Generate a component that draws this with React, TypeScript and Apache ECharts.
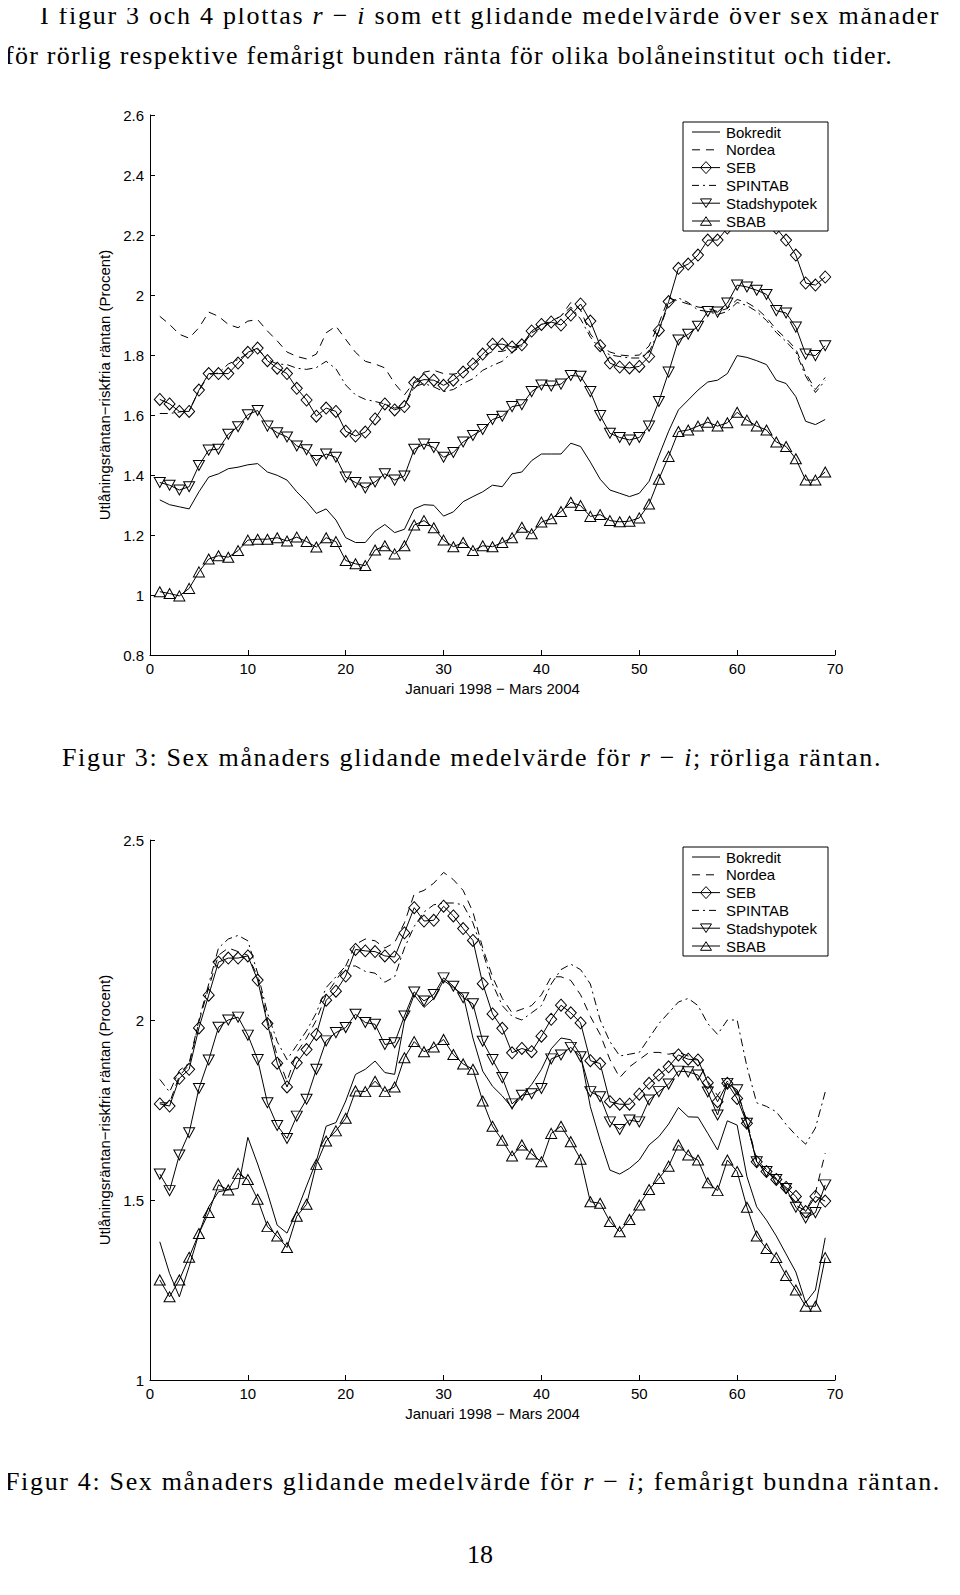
import React, { useEffect, useLayoutEffect, useRef } from "react";
import * as echarts from "echarts";

// ---------- DATA (month index 1..69, six-month moving average of r - i) ----------
const seriesNames = ["Bokredit", "Nordea", "SEB", "SPINTAB", "Stadshypotek", "SBAB"];
const xTicks = [0, 10, 20, 30, 40, 50, 60, 70];

// Figur 3: rörlig ränta
const bok3 = [1.317,1.301,1.294,1.287,1.344,1.393,1.404,1.421,1.426,1.434,1.438,1.41,1.399,1.383,
1.344,1.311,1.272,1.287,1.25,1.191,1.175,1.175,1.213,1.235,1.208,1.219,1.287,
1.301,1.299,1.263,1.277,1.311,1.328,1.344,1.366,1.361,1.404,1.41,1.448,1.47,1.47,
1.47,1.506,1.495,1.443,1.386,1.35,1.339,1.328,1.339,1.379,1.464,1.546,1.617,
1.65,1.683,1.71,1.716,1.738,1.798,1.792,1.781,1.768,1.716,1.705,1.661,1.579,1.568,1.585];
const nor3 = [1.929,1.902,1.869,1.856,1.891,1.943,1.929,1.902,1.891,1.913,1.918,1.88,1.847,1.81,
1.795,1.787,1.803,1.874,1.896,1.852,1.809,1.779,1.77,1.757,1.705,1.667,1.71,
1.743,1.749,1.738,1.736,1.743,1.765,1.795,1.812,1.812,1.823,1.83,1.874,1.891,1.91,
1.93,1.975,1.95,1.87,1.83,1.81,1.8,1.797,1.8,1.83,1.905,1.99,1.98,
1.97,1.96,1.955,1.945,1.955,1.985,1.975,1.955,1.925,1.885,1.855,1.82,1.74,1.685,1.725];
const seb3 = [1.652,1.637,1.612,1.612,1.683,1.738,1.738,1.738,1.773,1.809,1.823,1.781,1.756,1.738,
1.689,1.65,1.596,1.623,1.612,1.546,1.53,1.543,1.587,1.637,1.617,1.628,1.708,
1.718,1.716,1.699,1.716,1.743,1.77,1.803,1.836,1.836,1.827,1.834,1.88,1.902,1.91,
1.9,1.933,1.97,1.913,1.831,1.773,1.76,1.757,1.762,1.795,1.882,1.978,2.089,
2.103,2.133,2.183,2.183,2.223,2.26,2.27,2.26,2.25,2.223,2.183,2.133,2.04,2.033,2.06];
const spin3 = [1.605,1.605,1.61,1.615,1.68,1.735,1.74,1.77,1.785,1.805,1.82,1.785,1.77,1.768,
1.756,1.752,1.758,1.779,1.754,1.7,1.667,1.652,1.645,1.637,1.623,1.628,1.694,
1.705,1.694,1.678,1.685,1.705,1.721,1.749,1.765,1.779,1.809,1.83,1.874,1.902,1.913,
1.93,1.96,1.92,1.86,1.82,1.8,1.795,1.79,1.79,1.81,1.88,1.97,1.99,
1.975,1.95,1.945,1.935,1.945,1.975,1.965,1.945,1.915,1.875,1.845,1.81,1.73,1.675,1.715];
const stad3 = [1.375,1.366,1.35,1.361,1.432,1.483,1.486,1.536,1.561,1.601,1.615,1.563,1.541,1.527,
1.497,1.484,1.448,1.47,1.459,1.393,1.375,1.357,1.377,1.404,1.383,1.397,1.486,
1.503,1.492,1.459,1.475,1.51,1.532,1.552,1.585,1.596,1.628,1.634,1.678,1.7,1.697,
1.703,1.732,1.729,1.678,1.598,1.539,1.525,1.517,1.525,1.563,1.645,1.743,1.85,
1.869,1.896,1.945,1.943,1.973,2.033,2.027,2.016,2.002,1.948,1.94,1.893,1.803,1.798,1.831];
const sbab3 = [1.011,1.005,0.997,1.022,1.077,1.12,1.131,1.126,1.148,1.183,1.186,1.186,1.191,1.18,
1.193,1.178,1.16,1.191,1.178,1.115,1.104,1.098,1.15,1.164,1.137,1.164,1.233,
1.248,1.224,1.183,1.161,1.175,1.148,1.164,1.161,1.175,1.191,1.226,1.204,1.243,1.254,
1.278,1.309,1.298,1.262,1.268,1.248,1.244,1.246,1.257,1.303,1.386,1.462,1.545,
1.55,1.563,1.576,1.563,1.574,1.609,1.583,1.563,1.55,1.51,1.495,1.454,1.383,1.383,1.41];

// Figur 4: femårigt bunden ränta
const bok4 = [1.384,1.296,1.231,1.315,1.407,1.481,1.523,1.528,1.532,1.674,1.6,1.52,1.43,
1.408,1.469,1.539,1.608,1.705,1.715,1.775,1.849,1.863,1.886,1.854,1.849,1.997,2.07,
2.035,2.06,2.11,2.09,2.07,1.95,1.858,1.816,1.789,1.756,1.789,1.821,1.863,1.92,
1.95,1.945,1.903,1.759,1.666,1.583,1.572,1.588,1.611,1.653,1.676,1.711,1.757,
1.731,1.73,1.685,1.639,1.72,1.708,1.565,1.481,1.444,1.4,1.35,1.3,1.215,1.25,1.395];
const nor4 = [1.77,1.77,1.845,1.875,1.995,2.09,2.18,2.2,2.19,2.18,2.12,2.0,1.9,
1.83,1.91,1.95,2.0,2.07,2.11,2.15,2.21,2.225,2.22,2.2,2.215,2.27,2.35,
2.36,2.38,2.41,2.39,2.36,2.3,2.2,2.12,2.06,2.02,2.03,2.04,2.07,2.12,
2.12,2.11,2.07,2.01,1.96,1.89,1.84,1.87,1.89,1.91,1.91,1.905,1.91,
1.9,1.89,1.83,1.79,1.83,1.8,1.72,1.61,1.585,1.56,1.525,1.485,1.47,1.52,1.63];
const seb4 = [1.767,1.761,1.838,1.863,1.978,2.069,2.161,2.172,2.172,2.178,2.111,1.99,1.88,
1.814,1.881,1.918,1.96,2.055,2.08,2.122,2.196,2.192,2.19,2.178,2.175,2.242,2.312,
2.275,2.277,2.316,2.289,2.254,2.221,2.101,2.017,1.977,1.909,1.921,1.912,1.955,2.002,
2.041,2.02,1.992,1.887,1.879,1.773,1.766,1.766,1.794,1.824,1.847,1.87,1.903,
1.891,1.889,1.826,1.773,1.824,1.782,1.713,1.606,1.579,1.557,1.535,1.51,1.468,1.51,1.497];
const spin4 = [1.835,1.8,1.86,1.88,2.0,2.1,2.2,2.225,2.235,2.22,2.13,2.02,1.94,
1.89,1.93,1.97,2.02,2.09,2.12,2.15,2.15,2.135,2.13,2.105,2.12,2.2,2.26,
2.3,2.32,2.325,2.325,2.32,2.27,2.19,2.1,2.04,2.01,2.0,2.02,2.04,2.1,
2.14,2.155,2.14,2.1,2.0,1.94,1.9,1.905,1.91,1.95,1.99,2.02,2.05,
2.06,2.04,1.99,1.96,2.0,2.0,1.87,1.77,1.76,1.745,1.71,1.68,1.655,1.7,1.8];
const stad4 = [1.572,1.526,1.625,1.687,1.81,1.889,1.98,2.0,2.008,1.958,1.89,1.77,1.707,
1.671,1.733,1.78,1.863,1.942,1.965,1.979,2.016,1.993,1.988,1.932,1.937,2.011,2.078,
2.053,2.071,2.117,2.094,2.062,2.045,1.941,1.89,1.84,1.767,1.791,1.795,1.81,1.892,
1.903,1.924,1.898,1.801,1.787,1.717,1.696,1.722,1.717,1.778,1.801,1.822,1.858,
1.856,1.847,1.8,1.736,1.824,1.806,1.713,1.606,1.579,1.557,1.532,1.48,1.45,1.465,1.542];
const sbab4 = [1.278,1.231,1.278,1.341,1.407,1.465,1.542,1.528,1.574,1.557,1.502,1.426,1.4,
1.368,1.455,1.488,1.599,1.664,1.692,1.727,1.803,1.801,1.83,1.801,1.814,1.895,1.94,
1.912,1.925,1.946,1.904,1.878,1.863,1.775,1.705,1.666,1.622,1.653,1.628,1.606,1.685,
1.705,1.662,1.613,1.495,1.491,1.44,1.412,1.446,1.486,1.529,1.56,1.594,1.653,
1.625,1.611,1.548,1.526,1.611,1.579,1.48,1.4,1.365,1.34,1.29,1.25,1.205,1.205,1.34];

const fig3Values = [bok3, nor3, seb3, spin3, stad3, sbab3];
const fig4Values = [bok4, nor4, seb4, spin4, stad4, sbab4];

// ---------- STYLES ----------
const SANS = '"Liberation Sans", Arial, Helvetica, sans-serif';
const SERIF = '"Liberation Serif", "Times New Roman", serif';
const DOWN_TRI = "path://M0,0 L10,0 L5,8.66 Z";

const seriesStyle: any[] = [
  { symbol: "none", lineType: "solid", dash: null, marker: null },
  { symbol: "none", lineType: [8, 6], dash: [8, 6], marker: null },
  { symbol: "diamond", size: [11, 12], lineType: "solid", dash: null, marker: "diamond" },
  { symbol: "none", lineType: [8, 4, 2, 4], dash: [7, 4, 2, 4], marker: null },
  { symbol: DOWN_TRI, size: [11, 10], lineType: "solid", dash: null, marker: "down" },
  { symbol: "triangle", size: [11, 10], lineType: "solid", dash: null, marker: "up" },
];

// legend drawn as graphic (box + samples + labels)
function legendGraphic() {
  const bx = 593, by = 22, bw = 145, bh = 109;
  const els: any[] = [
    {
      type: "rect",
      shape: { x: bx, y: by, width: bw, height: bh },
      style: { fill: "#fff", stroke: "#000", lineWidth: 1 },
      z: 100,
    },
  ];
  seriesNames.forEach((name, k) => {
    const y = by + 10 + k * 17.8;
    const st = seriesStyle[k];
    els.push({
      type: "line",
      shape: { x1: bx + 9, y1: y, x2: bx + 37, y2: y },
      style: { stroke: "#000", lineWidth: 1, lineDash: st.dash || undefined },
      z: 101,
    });
    const cx = bx + 23;
    let pts: number[][] | null = null;
    if (st.marker === "diamond") pts = [[cx, y - 6], [cx + 5.5, y], [cx, y + 6], [cx - 5.5, y]];
    if (st.marker === "down") pts = [[cx - 5.5, y - 4.3], [cx + 5.5, y - 4.3], [cx, y + 4.3]];
    if (st.marker === "up") pts = [[cx, y - 4.3], [cx + 5.5, y + 4.3], [cx - 5.5, y + 4.3]];
    if (pts) {
      els.push({
        type: "polygon",
        shape: { points: pts },
        style: { fill: "rgba(255,255,255,0)", stroke: "#000", lineWidth: 1 },
        z: 102,
      });
    }
    els.push({
      type: "text",
      x: bx + 43,
      y: y,
      style: {
        text: name,
        fill: "#000",
        fontFamily: SANS,
        fontSize: 15,
        align: "left",
        verticalAlign: "middle",
      },
      z: 102,
    });
  });
  return els;
}

function buildOption(values: number[][], yMin: number, yMax: number, yInterval: number) {
  return {
    animation: false,
    backgroundColor: "transparent",
    grid: { left: 60, top: 15, width: 685, height: 540, containLabel: false, outerBoundsMode: "none" },
    legend: { show: false },
    graphic: legendGraphic(),
    xAxis: {
      type: "value",
      min: xTicks[0],
      max: xTicks[xTicks.length - 1],
      interval: 10,
      name: "Januari 1998 \u2212 Mars 2004",
      nameLocation: "middle",
      nameGap: 18,
      nameTextStyle: { fontFamily: SANS, fontSize: 15, color: "#000" },
      axisLine: { show: true, onZero: false, lineStyle: { color: "#000", width: 1 } },
      axisTick: { show: true, inside: true, length: 5, lineStyle: { color: "#000", width: 1 } },
      axisLabel: { color: "#000", fontFamily: SANS, fontSize: 15, margin: 6 },
      splitLine: { show: false },
    },
    yAxis: {
      type: "value",
      min: yMin,
      max: yMax,
      interval: yInterval,
      name: "Utl\u00e5ningsr\u00e4ntan\u2212riskfria r\u00e4ntan (Procent)",
      nameLocation: "middle",
      nameGap: 32,
      nameRotate: 90,
      nameTextStyle: { fontFamily: SANS, fontSize: 15, color: "#000" },
      axisLine: { show: true, onZero: false, lineStyle: { color: "#000", width: 1 } },
      axisTick: { show: true, inside: true, length: 5, lineStyle: { color: "#000", width: 1 } },
      axisLabel: {
        color: "#000",
        fontFamily: SANS,
        fontSize: 15,
        margin: 6,
        formatter: (v: number) => String(Math.round(v * 10) / 10),
      },
      splitLine: { show: false },
    },
    series: values.map((vals, k) => {
      const st = seriesStyle[k];
      return {
        name: seriesNames[k],
        type: "line",
        data: vals.map((v, i) => [i + 1, v]),
        symbol: st.symbol,
        symbolSize: st.size || 0,
        showSymbol: st.symbol !== "none",
        lineStyle: { color: "#000", width: 1, type: st.lineType },
        itemStyle: { color: "rgba(255,255,255,0)", borderColor: "#000", borderWidth: 1 },
        emphasis: { disabled: true },
        z: 2,
      };
    }),
  };
}

function Fig(props: { values: number[][]; yMin: number; yMax: number; yInterval: number; top: number }) {
  const ref = useRef<HTMLDivElement>(null);
  useEffect(() => {
    if (!ref.current) return;
    const chart = echarts.init(ref.current, undefined, { renderer: "svg" });
    chart.setOption(buildOption(props.values, props.yMin, props.yMax, props.yInterval) as any);
    return () => chart.dispose();
  }, []);
  return (
    <div
      ref={ref}
      style={{ position: "absolute", left: 82, top: props.top, width: 760, height: 620 }}
    />
  );
}

// A line of serif text stretched (via letter spacing) to the given width
function FitLine(props: { left: number; top: number; width: number; children: React.ReactNode }) {
  const ref = useRef<HTMLSpanElement>(null);
  useLayoutEffect(() => {
    const fit = () => {
      const el = ref.current;
      if (!el) return;
      el.style.letterSpacing = "0px";
      const w = el.getBoundingClientRect().width;
      const n = (el.textContent || "").length;
      const ls = (props.width - w) / Math.max(1, n);
      el.style.letterSpacing = ls.toFixed(3) + "px";
    };
    fit();
    const fonts: any = (document as any).fonts;
    if (fonts && fonts.ready) fonts.ready.then(fit);
  }, []);
  return (
    <div
      style={{
        position: "absolute",
        left: props.left,
        top: props.top,
        whiteSpace: "nowrap",
        fontFamily: SERIF,
        fontSize: 26,
        lineHeight: "30px",
        color: "#000",
      }}
    >
      <span ref={ref}>{props.children}</span>
    </div>
  );
}

export default function App() {
  return (
    <div style={{ position: "relative", width: 944, height: 1579, background: "#fff" }}>
      <FitLine left={32} top={-7} width={900}>
        I figur 3 och 4 plottas <i>r</i> {"\u2212"} <i>i</i> som ett glidande medelv{"\u00e4"}rde {"\u00f6"}ver sex m{"\u00e5"}nader
      </FitLine>
      <FitLine left={-3} top={33} width={888}>
        f{"\u00f6"}r r{"\u00f6"}rlig respektive fem{"\u00e5"}rigt bunden r{"\u00e4"}nta f{"\u00f6"}r olika bol{"\u00e5"}neinstitut och tider.
      </FitLine>

      <Fig values={fig3Values} yMin={0.8} yMax={2.6} yInterval={0.2} top={92} />

      <FitLine left={54} top={735} width={820}>
        Figur 3: Sex m{"\u00e5"}naders glidande medelv{"\u00e4"}rde f{"\u00f6"}r <i>r</i> {"\u2212"} <i>i</i>; r{"\u00f6"}rliga r{"\u00e4"}ntan.
      </FitLine>

      <Fig values={fig4Values} yMin={1} yMax={2.5} yInterval={0.5} top={817} />

      <FitLine left={-3} top={1459} width={936}>
        Figur 4: Sex m{"\u00e5"}naders glidande medelv{"\u00e4"}rde f{"\u00f6"}r <i>r</i> {"\u2212"} <i>i</i>; fem{"\u00e5"}rigt bundna r{"\u00e4"}ntan.
      </FitLine>

      <div
        style={{
          position: "absolute",
          left: 0,
          top: 1532,
          width: 944,
          textAlign: "center",
          fontFamily: SERIF,
          fontSize: 26,
          lineHeight: "30px",
          color: "#000",
        }}
      >
        18
      </div>
    </div>
  );
}
